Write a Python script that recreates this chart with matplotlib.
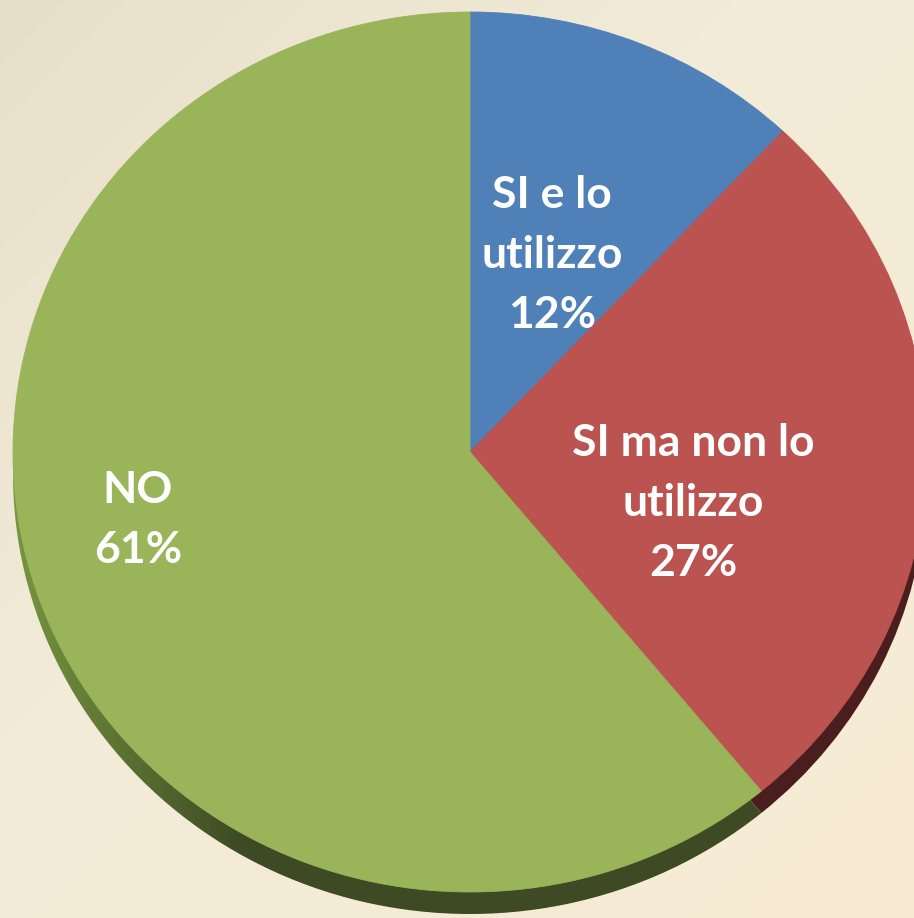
import numpy as np
import matplotlib
matplotlib.use('Agg')
import matplotlib.pyplot as plt
from matplotlib.patches import Wedge
from matplotlib.colors import to_rgb

labels = ['SI e lo\nutilizzo', 'SI ma non lo\nutilizzo', 'NO']
values = [12, 27, 61]
colors = ['#5080b8', '#bb5350', '#9ab45a']
side_dark = ['#2c4566', '#4a1e1e', '#3d4a24']
side_light = ['#4a6f9a', '#8a3a38', '#76963f']

# pixel geometry of the tilted pie
W, H = 914, 918
cx, cy = 470, 452
rx, ry = 457, 440
depth = 22 / ry

fig = plt.figure(figsize=(W / 100, H / 100), dpi=100)
ax = fig.add_axes([0, 0, 1, 1])
x0, x1 = -cx / rx, (W - cx) / rx
y0, y1 = (cy - H) / ry, cy / ry
ax.set_xlim(x0, x1)
ax.set_ylim(y0, y1)
ax.set_aspect('auto')
ax.axis('off')

# background gradient, row 0 = top of the picture
xx, yy = np.meshgrid(np.linspace(0, 1, 200), np.linspace(0, 1, 200))
c_tl = np.array(to_rgb('#e8dfc8'))
c_mid = np.array(to_rgb('#f1ebd8'))
c_br = np.array(to_rgb('#f8ebd3'))
t = np.clip((xx + yy) / 2, 0, 1)[..., None]
bg = np.where(t < 0.4, c_tl + (c_mid - c_tl) * (t / 0.4),
              c_mid + (c_br - c_mid) * ((t - 0.4) / 0.6))
ax.imshow(bg, extent=[x0, x1, y0, y1], origin='upper', aspect='auto', zorder=0)

# slice angles, clockwise from 12 o'clock
angles = []
start = 90
for v in values:
    sweep = v / sum(values) * 360
    angles.append((start - sweep, start))
    start -= sweep

# side of the disc
gx = np.linspace(-1.05, 1.05, 300)
for (a1, a2), dk, lt in zip(angles, side_dark, side_light):
    dk, lt = np.array(to_rgb(dk)), np.array(to_rgb(lt))
    f = np.clip((-0.5 - gx) / 0.5, 0, 1)[None, :, None]
    img = np.repeat(dk + (lt - dk) * f, 2, axis=0)
    w = Wedge((0, -depth), 1, a1, a2, facecolor='none', edgecolor='none', zorder=1)
    ax.add_patch(w)
    im = ax.imshow(img, extent=[-1.05, 1.05, -1.2, 1.1], aspect='auto', zorder=1)
    im.set_clip_path(w)

# top face
for (a1, a2), c in zip(angles, colors):
    ax.add_patch(Wedge((0, 0), 1, a1, a2, facecolor=c, edgecolor=c, linewidth=0.6, zorder=2))

# labels
label_pos = [(552, 255), (693, 503), (138, 520)]
for lab, v, (px, py) in zip(labels, values, label_pos):
    ax.text((px - cx) / rx, (cy - py) / ry, f'{lab}\n{v}%', ha='center', va='center',
            color='white', fontsize=32, fontweight='bold', family='Lato',
            linespacing=1.6, zorder=3)

fig.savefig('out.png', dpi=100)
